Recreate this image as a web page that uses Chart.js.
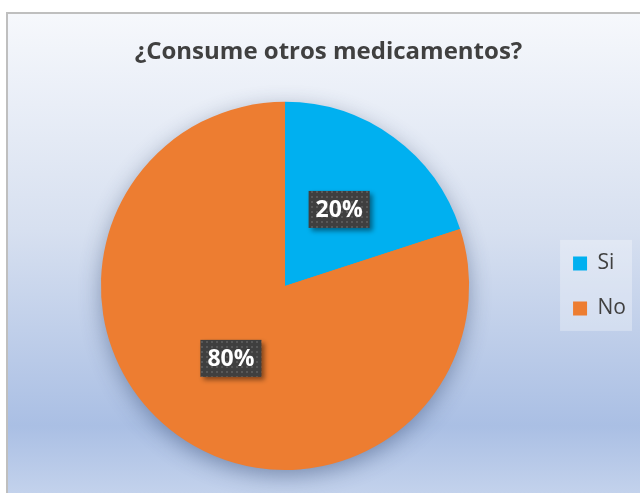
<!DOCTYPE html>
<html>
<head>
<meta charset="utf-8">
<script src="https://cdn.jsdelivr.net/npm/chart.js@4.4.1/dist/chart.umd.min.js"></script>
<style>
  html, body { margin: 0; padding: 0; background: #fff; }
  #wrap { width: 640px; height: 493px; position: relative; }
</style>
</head>
<body>
<div id="wrap"><canvas id="chart"></canvas></div>
<script>
// data
const categories = ['Si', 'No'];
const values = [20, 80];
const sliceColors = ['#00B0F0', '#ED7D31'];
const chartTitle = '¿Consume otros medicamentos?';

const FONT = "'Open Sans', 'Noto Sans', sans-serif";

// frame + gradient background, legend box
const backgroundPlugin = {
    id: 'bg',
    beforeDraw(chart) {
        const ctx = chart.ctx;
        const w = chart.width, h = chart.height;
        ctx.save();
        ctx.fillStyle = '#ffffff';
        ctx.fillRect(0, 0, w, h);

        const grad = ctx.createLinearGradient(0, 14, 0, h);
        grad.addColorStop(0, '#f6f8fc');
        grad.addColorStop(0.45, '#d7e0f0');
        grad.addColorStop(0.86, '#aabfe4');
        grad.addColorStop(1, '#c3d2ec');
        ctx.fillStyle = grad;
        ctx.fillRect(8, 14, w - 8, h - 14);

        ctx.strokeStyle = '#bfbfbf';
        ctx.lineWidth = 2;
        ctx.beginPath();
        ctx.moveTo(7, h);
        ctx.lineTo(7, 13);
        ctx.lineTo(w, 13);
        ctx.stroke();

        // legend box behind the items
        const legend = chart.legend;
        if (legend && legend.legendHitBoxes && legend.legendHitBoxes.length) {
            const boxes = legend.legendHitBoxes;
            const first = boxes[0], last = boxes[boxes.length - 1];
            const x0 = first.left - 13;
            const y0 = first.top - 13;
            const x1 = 632;
            const y1 = last.top + last.height + 12;
            ctx.fillStyle = 'rgba(255, 255, 255, 0.3)';
            ctx.fillRect(x0, y0, x1 - x0, y1 - y0);
        }
        ctx.restore();
    }
};

// soft shadow under the pie
const pieShadowPlugin = {
    id: 'pieShadow',
    beforeDatasetsDraw(chart) {
        const arc = chart.getDatasetMeta(0).data[0];
        if (!arc) return;
        const ctx = chart.ctx;
        ctx.save();
        ctx.shadowColor = 'rgba(40, 60, 100, 0.45)';
        ctx.shadowBlur = 22;
        ctx.shadowOffsetY = 6;
        ctx.fillStyle = sliceColors[1];
        ctx.beginPath();
        ctx.arc(arc.x, arc.y, arc.outerRadius - 1, 0, Math.PI * 2);
        ctx.fill();
        ctx.restore();
    }
};

// dark dotted label boxes with percentages
function makeDotPattern(ctx) {
    const c = document.createElement('canvas');
    c.width = 5; c.height = 5;
    const p = c.getContext('2d');
    p.fillStyle = '#3f3f3f';
    p.fillRect(0, 0, 5, 5);
    p.fillStyle = '#585858';
    p.fillRect(1, 1, 2, 2);
    return ctx.createPattern(c, 'repeat');
}

const labelPlugin = {
    id: 'pctLabels',
    afterDatasetsDraw(chart) {
        const ctx = chart.ctx;
        const meta = chart.getDatasetMeta(0);
        const data = chart.data.datasets[0].data;
        const total = data.reduce((a, b) => a + b, 0);
        const pattern = makeDotPattern(ctx);
        ctx.save();
        ctx.font = 'bold 23px ' + FONT;
        ctx.textAlign = 'center';
        ctx.textBaseline = 'middle';
        meta.data.forEach((arc, i) => {
            const pos = arc.getCenterPoint();
            const cy = pos.y - 2;
            const text = Math.round(data[i] / total * 100) + '%';
            const tw = ctx.measureText(text).width;
            const bw = tw + 14, bh = 37;
            const bx = pos.x - bw / 2, by = cy - bh / 2;
            ctx.save();
            ctx.shadowColor = 'rgba(0, 0, 0, 0.45)';
            ctx.shadowBlur = 5;
            ctx.shadowOffsetX = 3;
            ctx.shadowOffsetY = 3;
            ctx.fillStyle = pattern;
            ctx.fillRect(bx, by, bw, bh);
            ctx.restore();
            ctx.fillStyle = '#ffffff';
            ctx.fillText(text, pos.x, cy + 1);
        });
        ctx.restore();
    }
};

const canvas = document.getElementById('chart');
new Chart(canvas.getContext('2d'), {
    type: 'pie',
    data: {
        labels: categories,
        datasets: [{
            data: values,
            backgroundColor: sliceColors,
            borderWidth: 0
        }]
    },
    options: {
        responsive: true,
        maintainAspectRatio: false,
        animation: false,
        layout: {
            padding: { left: 21, right: 4, top: 0, bottom: 23 }
        },
        plugins: {
            title: {
                display: true,
                text: chartTitle,
                color: '#404040',
                font: { family: FONT, size: 24, weight: 'bold' },
                padding: { top: 38, bottom: 35 }
            },
            legend: {
                position: 'right',
                fullSize: false,
                labels: {
                    boxWidth: 14,
                    boxHeight: 14,
                    padding: 24,
                    color: '#404040',
                    font: { family: FONT, size: 21 }
                }
            },
            tooltip: { enabled: false }
        }
    },
    plugins: [backgroundPlugin, pieShadowPlugin, labelPlugin]
});
</script>
</body>
</html>
